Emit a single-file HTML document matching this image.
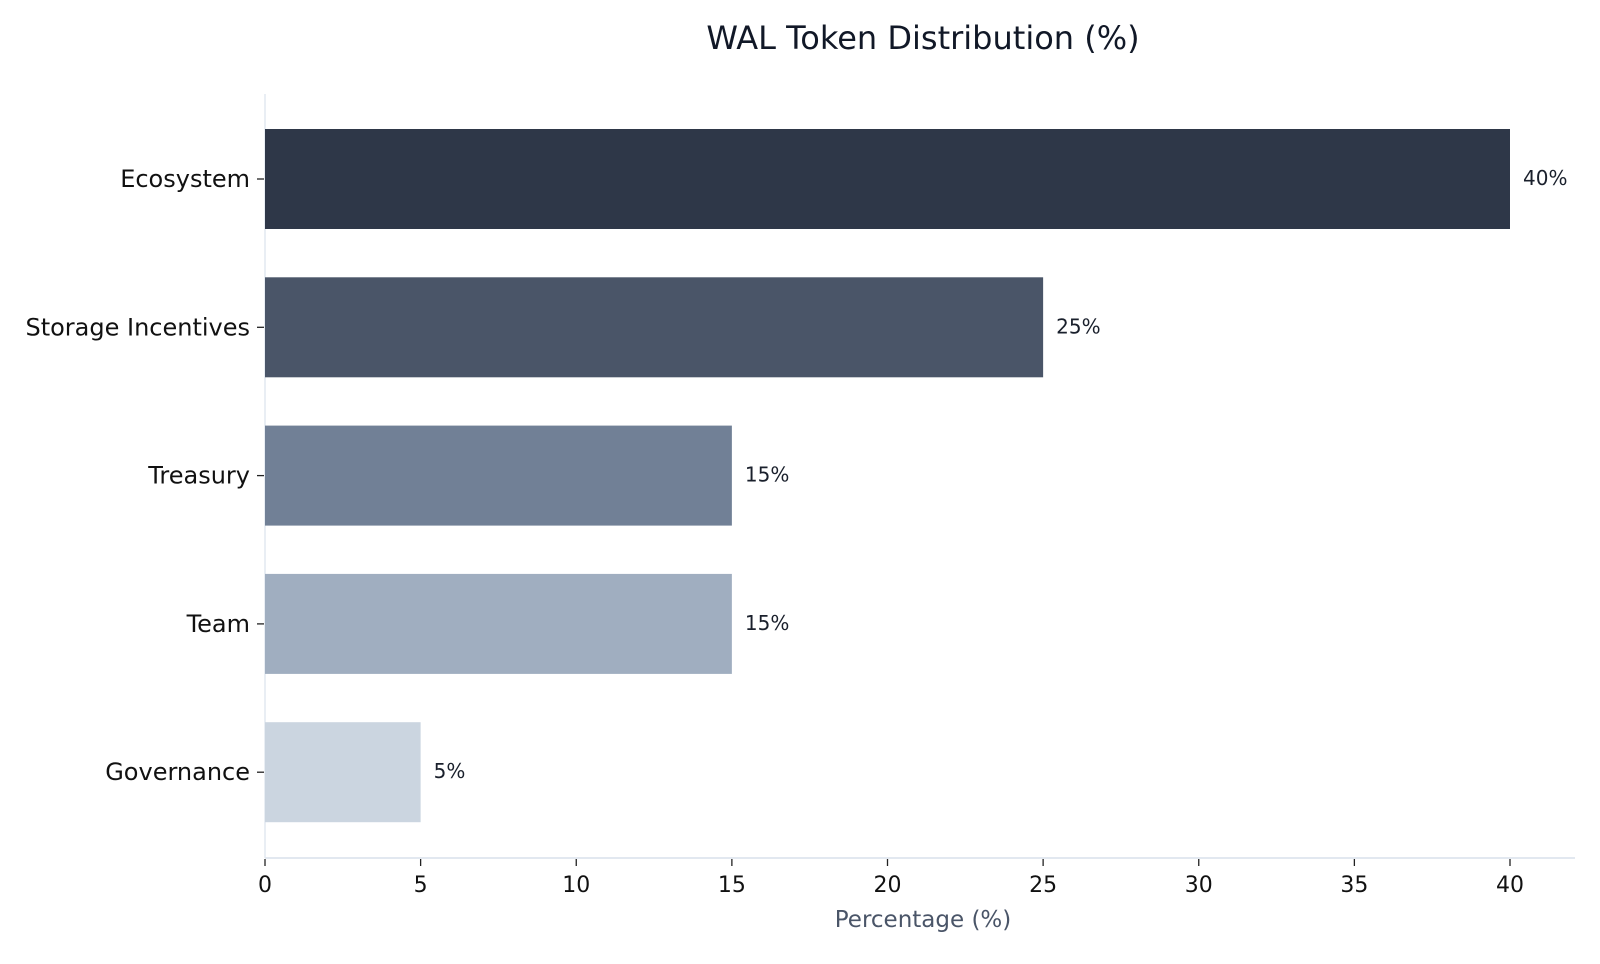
<!DOCTYPE html>
<html><head><meta charset="utf-8"><style>
body{margin:0;background:#fff;font-family:"DejaVu Sans",sans-serif}
svg text{font-family:"DejaVu Sans",sans-serif}
</style></head><body>
<svg id="c" width="1600" height="960">
<text x="923" y="49" text-anchor="middle" font-size="32" fill="#111827">WAL Token Distribution (%)</text>
<line x1="265" y1="94" x2="265" y2="858" stroke="#e2e8f0" stroke-width="1.5"/>
<line x1="265" y1="858" x2="1575" y2="858" stroke="#e2e8f0" stroke-width="2"/>
<text x="923" y="927" text-anchor="middle" font-size="23" fill="#4a5568">Percentage (%)</text>
<g id="g"></g>
</svg>
<script>
const categories=["Ecosystem","Storage Incentives","Treasury","Team","Governance"];
const values=[40,25,15,15,5];
const colors=["#2e3748","#4a5568","#718096","#a0aec0","#cbd5e0"];
const ticks=[0,5,10,15,20,25,30,35,40];
const NS="http://www.w3.org/2000/svg";
const g=document.getElementById('g');
const x=v=>265+v*31.125;
const y=i=>129+i*148.3;
const bh=100;
function mk(t,a,txt){const e=document.createElementNS(NS,t);for(const k in a)e.setAttribute(k,a[k]);if(txt!==undefined)e.textContent=txt;g.appendChild(e);return e;}
ticks.forEach(t=>{
 const l=mk('line',{x1:x(t),x2:x(t),y1:859,y2:866,stroke:'#222','stroke-width':1.3});
 
 
 const tx=mk('text',{x:x(t),y:892,'text-anchor':'middle','font-size':22,fill:'#111'},t);
 
 
});
categories.forEach((c,i)=>{
 const r=mk('rect',{x:x(0),y:y(i),width:x(values[i])-x(0),height:bh,fill:colors[i]});
 
 
 const cy=y(i)+bh/2;
 const tk=mk('line',{x1:257,x2:264,y1:cy,y2:cy,stroke:'#222','stroke-width':1.3});
 
 
 const lb=mk('text',{x:250,y:cy+8,'text-anchor':'end','font-size':24,fill:'#111'},c);
 
 
 const vl=mk('text',{x:x(values[i])+13,y:cy+6,'font-size':20,fill:'#1a202c'},values[i]+'%');
 
 
});
</script>
</body></html>
